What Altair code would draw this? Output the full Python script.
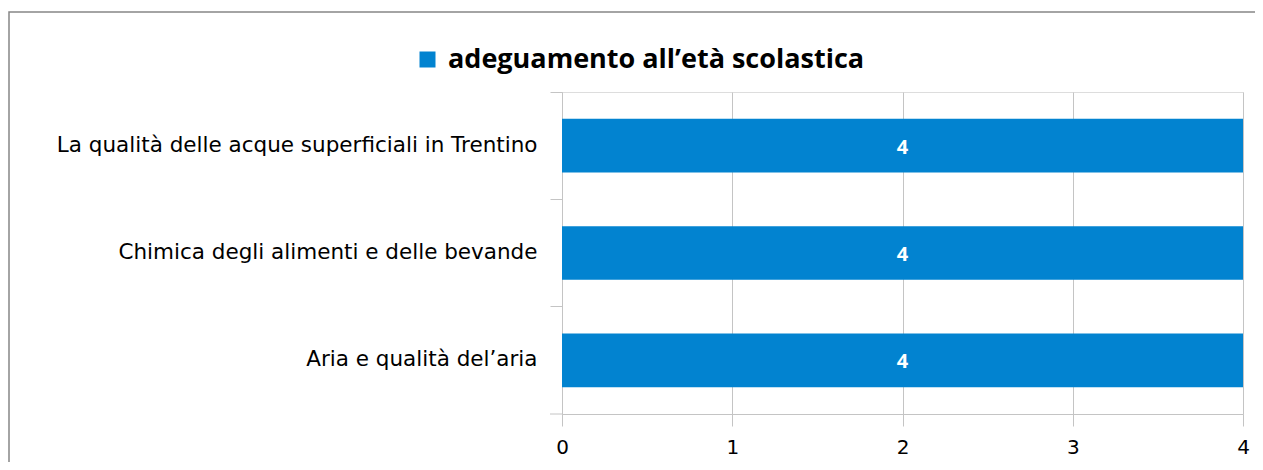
import altair as alt
import pandas as pd

categories = [
    "La qualità delle acque superficiali in Trentino",
    "Chimica degli alimenti e delle bevande",
    "Aria e qualità del’aria",
]
values = [4, 4, 4]
series_name = "adeguamento all’età scolastica"
x_ticks = [0, 1, 2, 3, 4]

df = pd.DataFrame({
    "argomento": categories,
    "valore": values,
    "serie": [series_name] * len(categories),
})

W, H = 681, 322
BLUE = "#0283D0"
GRID = "#C4C4C4"
FONT = "Open Sans"
LFONT = "DejaVu Sans"

y_enc = alt.Y(
    "argomento:N",
    sort=categories,
    scale=alt.Scale(paddingInner=0.5, paddingOuter=0.25),
    axis=alt.Axis(
        title=None,
        bandPosition=-0.5,
        tickSize=12,
        labelPadding=13,
        labelFontSize=21.5,
        labelFont=LFONT,
        labelColor="#000000",
        labelLimit=600,
        domainColor=GRID,
        tickColor=GRID,
    ),
)

x_enc = alt.X(
    "valore:Q",
    scale=alt.Scale(domain=[0, 4], nice=False),
    axis=alt.Axis(
        title=None,
        values=x_ticks,
        format="d",
        grid=True,
        gridColor=GRID,
        tickSize=12,
        labelPadding=11,
        labelFontSize=20,
        labelFont=LFONT,
        labelColor="#000000",
        labelFlush=False,
        domainColor=GRID,
        tickColor=GRID,
    ),
)

bars = alt.Chart(df).mark_bar(color=BLUE).encode(
    y=y_enc,
    x=x_enc,
    color=alt.Color(
        "serie:N",
        scale=alt.Scale(range=[BLUE]),
        legend=alt.Legend(
            title=None,
            orient="none",
            legendX=-148,
            legendY=-46,
            padding=0,
            symbolType="square",
            symbolSize=256,
            symbolStrokeWidth=0,
            labelFont=FONT,
            labelFontSize=27,
            labelFontWeight="bold",
            labelColor="#000000",
            labelLimit=800,
            labelOffset=7,
        ),
    ),
)

labels = alt.Chart(df).transform_calculate(mid="datum.valore / 2").mark_text(
    color="white", fontWeight="bold", fontSize=20, font=FONT, baseline="middle", dy=2
).encode(
    y=alt.Y("argomento:N", sort=categories),
    x=alt.X("mid:Q"),
    text=alt.Text("valore:Q", format="d"),
)

bottom_tick = alt.Chart(pd.DataFrame({"k": [0]})).mark_rule(color=GRID).encode(
    x=alt.value(-12), x2=alt.value(0), y=alt.value(H)
)

frame = alt.Chart(pd.DataFrame({"k": [0]})).mark_rect(
    fillOpacity=0, stroke="#868686", strokeWidth=1.5
).encode(
    x=alt.value(-553), x2=alt.value(760), y=alt.value(-80), y2=alt.value(420)
)

chart = alt.layer(bars, labels, bottom_tick, frame).properties(
    width=W,
    height=H,
    autosize=alt.AutoSizeParams(type="none"),
    padding={"left": 554, "top": 84, "right": 12, "bottom": 48},
).configure_view(stroke=GRID, strokeWidth=1).configure(background="white")

chart.save("out.html", embed_options={"renderer": "svg", "actions": False})
